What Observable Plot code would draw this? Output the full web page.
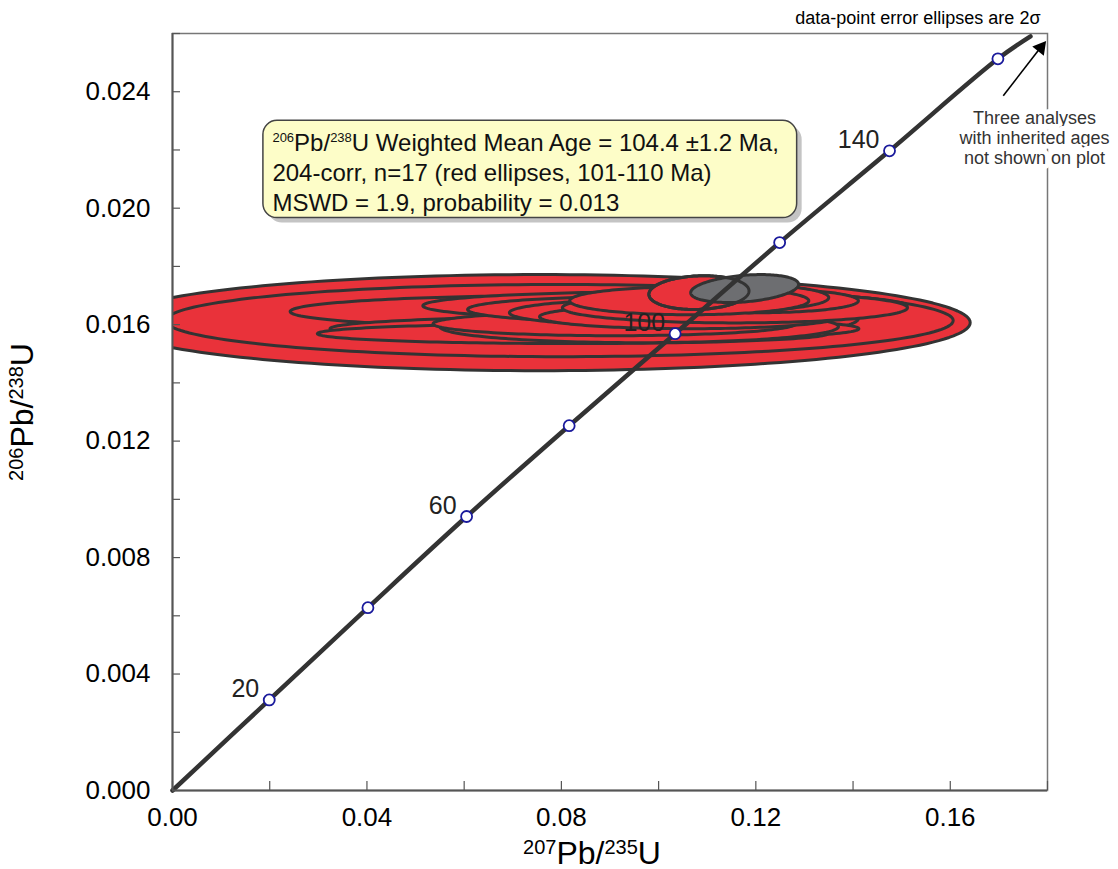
<!DOCTYPE html>
<html>
<head>
<meta charset="utf-8">
<script src="https://cdn.jsdelivr.net/npm/d3@7"></script>
<script src="https://cdn.jsdelivr.net/npm/@observablehq/plot@0.6"></script>
<style>
  body { margin: 0; background: #fff; }
</style>
</head>
<body>
<div id="chart"></div>
<script>
// Concordia age markers (Ma) and their isotope ratios
const markerAge = [20, 40, 60, 80, 100, 120, 140, 160];
const marker207 = [0.0199, 0.0402, 0.0605, 0.0816, 0.1034, 0.1249, 0.1475, 0.1698];
const marker206 = [0.00311, 0.00628, 0.00941, 0.01253, 0.01569, 0.01882, 0.02197, 0.02513];
const labelledAges = [20, 60, 100, 140];

// Concordia trace: origin, marker ages, end of the drawn curve
const curve207 = [0, ...marker207, 0.1765];
const curve206 = [0, ...marker206, 0.0259];

// Analyses: centre and 2-sigma of 207Pb/235U and 206Pb/238U, error correlation
const ell207   = [0.0755, 0.0796, 0.0919, 0.0810, 0.0868, 0.0823, 0.0960, 0.0909, 0.1013, 0.0978, 0.1036, 0.1063, 0.1157, 0.1206, 0.1165, 0.1063, 0.1083, 0.1177];
const ell207Sd = [0.0886, 0.0810, 0.0492, 0.0568, 0.0544, 0.0525, 0.0410, 0.0373, 0.0498, 0.0371, 0.0343, 0.0308, 0.0355, 0.0205, 0.0185, 0.0246, 0.0103, 0.0111];
const ell206   = [0.01607, 0.01614, 0.01621, 0.01645, 0.01586, 0.01569, 0.01593, 0.01603, 0.01665, 0.01652, 0.01641, 0.01627, 0.01658, 0.01682, 0.01693, 0.01682, 0.01710, 0.01724];
const ell206Sd = [0.00165, 0.00124, 0.00076, 0.00055, 0.00041, 0.00034, 0.00055, 0.00041, 0.00048, 0.00045, 0.00048, 0.00041, 0.00052, 0.00041, 0.00045, 0.00048, 0.00058, 0.00048];
const ellRho   = [0, 0, 0, 0, 0, 0, 0, 0, 0, 0, 0, 0, 0, 0, 0, 0, 0.1, 0.3];
const ellUsed  = [true, true, true, true, true, true, true, true, true, true, true, true, true, true, true, true, true, false];

// Axis ticks
const xTicks = [0, 0.02, 0.04, 0.06, 0.08, 0.10, 0.12, 0.14, 0.16, 0.18];
const xLabels = [0, 0.04, 0.08, 0.12, 0.16];
const yTicks = [0, 0.002, 0.004, 0.006, 0.008, 0.010, 0.012, 0.014, 0.016, 0.018, 0.020, 0.022, 0.024, 0.026];
const yLabels = [0, 0.004, 0.008, 0.012, 0.016, 0.020, 0.024];

// Texts (^{...} marks a superscript)
const xTitle = "^{207}Pb/^{235}U";
const yTitle = "^{206}Pb/^{238}U";
const summaryLines = [
  "^{206}Pb/^{238}U Weighted Mean Age = 104.4 ±1.2 Ma,",
  "204-corr, n=17 (red ellipses, 101-110 Ma)",
  "MSWD = 1.9, probability = 0.013"
];
const ellipseNote = "data-point error ellipses are 2σ";
const inheritedNote = ["Three analyses", "with inherited ages", "not shown on plot"];

// Placement of the summary box and the inherited-ages arrow (data units)
const summaryBox = {x1: 0.0187, x2: 0.1285, y1: 0.01966, y2: 0.0230};
const inheritedArrow = {x1: 0.1709, y1: 0.02386, x2: 0.1783, y2: 0.02546};

const FONT = "'Liberation Sans', Arial, Helvetica, sans-serif";
const RED = "#e9323a";
const GRAY = "#6d6e71";
const OUTLINE = "#333333";

// Ellipse outlines from centre, 2σ and correlation
const ellipses = ell207.map((x, i) => ({
  id: i, x, sx: ell207Sd[i], y: ell206[i], sy: ell206Sd[i], rho: ellRho[i], used: ellUsed[i]
}));
const steps = 180;
function outline(e) {
  const c = Math.sqrt(1 - e.rho * e.rho);
  return d3.range(steps).map(k => {
    const t = (k / steps) * 2 * Math.PI;
    return {id: e.id, x: e.x + e.sx * Math.cos(t), y: e.y + e.sy * (e.rho * Math.cos(t) + c * Math.sin(t))};
  });
}
const redPts = ellipses.filter(e => e.used).flatMap(outline);
const grayPts = ellipses.filter(e => !e.used).flatMap(outline);
// the small red ellipse overlapping the grey one is re-stroked on top
const overlapPts = outline(ellipses[16]);

const markers = markerAge.map((age, i) => ({age, x: marker207[i], y: marker206[i]}));
const concordia = curve207.map((x, i) => ({x, y: curve206[i]}));

const chart = Plot.plot({
  width: 1118,
  height: 869,
  marginLeft: 172,
  marginRight: 71,
  marginTop: 33,
  marginBottom: 79,
  style: {fontFamily: FONT, background: "white", color: "black"},
  x: {domain: [0, 0.18]},
  y: {domain: [0, 0.026]},
  marks: [
    Plot.frame({stroke: "#777", strokeWidth: 1.5}),

    // analyses
    Plot.line(redPts, {x: "x", y: "y", z: "id", curve: "linear-closed", fill: RED, stroke: OUTLINE, strokeWidth: 3, clip: true}),
    Plot.line(grayPts, {x: "x", y: "y", z: "id", curve: "linear-closed", fill: GRAY, stroke: OUTLINE, strokeWidth: 3, clip: true}),
    Plot.line(overlapPts, {x: "x", y: "y", curve: "linear-closed", fill: "none", stroke: OUTLINE, strokeWidth: 3, clip: true}),

    // concordia with age markers
    Plot.line(concordia, {x: "x", y: "y", stroke: OUTLINE, strokeWidth: 4.5, curve: "catmull-rom"}),
    Plot.dot(markers, {x: "x", y: "y", r: 5.5, fill: "white", stroke: "#1a1a9c", strokeWidth: 1.8}),
    Plot.text(markers.filter(d => labelledAges.includes(d.age)), {
      x: "x", y: "y", text: d => String(d.age), textAnchor: "end", dx: -10, dy: -11, fontSize: 25, fill: "#222"
    }),

    // axis lines
    Plot.ruleX([0], {stroke: "#555", strokeWidth: 2}),
    Plot.ruleY([0], {stroke: "#555", strokeWidth: 2}),

    // inward ticks
    Plot.axisX(xTicks, {anchor: "bottom", tickSize: 9, dy: -9, tickFormat: () => "", label: null, stroke: "#555", strokeWidth: 1.2}),
    Plot.axisY(yTicks, {anchor: "left", tickSize: 8, dx: 8, tickFormat: () => "", label: null, stroke: "#555", strokeWidth: 1.2}),
    // tick labels
    Plot.axisX(xLabels, {anchor: "bottom", tickSize: 0, tickPadding: 17, tickFormat: d3.format(".2f"), label: null, fontSize: 26}),
    Plot.axisY(yLabels, {anchor: "left", tickSize: 0, tickPadding: 22, tickFormat: d3.format(".3f"), label: null, fontSize: 26}),

    // axis titles
    Plot.text([xTitle], {text: d => d, frameAnchor: "bottom", textAnchor: "middle", lineAnchor: "bottom", dx: -18, dy: 73, fontSize: 32}),
    Plot.text([yTitle], {text: d => d, frameAnchor: "left", textAnchor: "middle", lineAnchor: "bottom", dx: -140, rotate: -90, fontSize: 32}),

    // summary box
    Plot.rect([summaryBox], {x1: "x1", x2: "x2", y1: "y1", y2: "y2", rx: 14, dx: 5, dy: 5, fill: "#c4c4c4"}),
    Plot.rect([summaryBox], {x1: "x1", x2: "x2", y1: "y1", y2: "y2", rx: 14, fill: "#fdfdc8", stroke: "#444", strokeWidth: 1.5}),
    Plot.text([summaryLines.join("\n")], {
      text: d => d, x: summaryBox.x1, y: summaryBox.y2, dx: 9, dy: 9,
      textAnchor: "start", lineAnchor: "top", fontSize: 24, lineHeight: 1.25, fill: "#111"
    }),

    // notes
    Plot.text([ellipseNote], {text: d => d, frameAnchor: "top-right", textAnchor: "end", lineAnchor: "middle", dx: -7, dy: -15, fontSize: 18}),
    Plot.text([inheritedNote.join("\n")], {
      text: d => d, frameAnchor: "top-right", textAnchor: "middle", lineAnchor: "middle", dx: -13, dy: 104,
      fontSize: 18, lineHeight: 1.11, fill: "#333", stroke: "white", strokeWidth: 10
    }),
    Plot.link([inheritedArrow], {x1: "x1", y1: "y1", x2: "x2", y2: "y2", stroke: "black", strokeWidth: 1.6}),
    Plot.dot([inheritedArrow], {x: "x2", y: "y2", symbol: "triangle", r: 5.5, rotate: 39, dx: 1.5, dy: -1.5, fill: "black", stroke: "none"})
  ]
});

document.getElementById("chart").appendChild(chart);

// Render ^{...} segments as raised, smaller digits
const supSizes = {32: 20, 28: 17, 24: 13};
chart.querySelectorAll("text, tspan").forEach(node => {
  if (node.children.length) return;
  const s = node.textContent;
  if (!s.includes("^{")) return;
  const base = parseFloat(getComputedStyle(node).fontSize);
  const sup = supSizes[Math.round(base)] || Math.round(base * 0.6);
  const shift = 0.716 * (base - sup) + 1;
  node.textContent = "";
  s.split(/(\^\{[^}]*\})/).filter(p => p).forEach(part => {
    const t = document.createElementNS("http://www.w3.org/2000/svg", "tspan");
    const m = part.match(/^\^\{([^}]*)\}$/);
    if (m) {
      t.textContent = m[1];
      t.setAttribute("font-size", sup);
      t.setAttribute("baseline-shift", shift);
    } else {
      t.textContent = part;
    }
    node.appendChild(t);
  });
});
</script>
</body>
</html>
